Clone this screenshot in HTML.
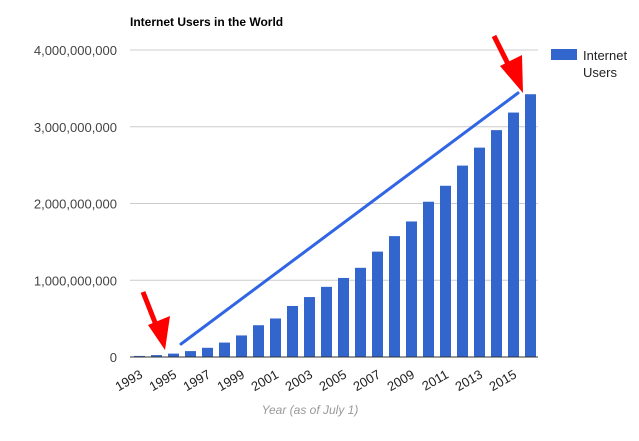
<!DOCTYPE html>
<html><head><meta charset="utf-8"><style>
body{margin:0;background:#fff;width:639px;height:441px;overflow:hidden}
svg{display:block;font-family:"Liberation Sans",Arial,sans-serif}
</style></head><body>
<svg id="chart" width="639" height="441">
<text x="130" y="26" font-size="12" font-weight="bold" fill="#000">Internet Users in the World</text>
<g id="grid"></g><g id="bars"></g><g id="xlabels"></g>
<line x1="130" y1="357" x2="538" y2="357" stroke="#333" stroke-width="1"/>
<text x="310" y="414" font-size="12" font-style="italic" fill="#999" text-anchor="middle">Year (as of July 1)</text>
<g>
<rect x="551" y="49" width="26" height="11" fill="#3366cc"/>
<text x="583" y="60" font-size="13" fill="#222">Internet</text>
<text x="583" y="77" font-size="13" fill="#222">Users</text>
</g>
<line x1="181" y1="344" x2="518" y2="93" stroke="#1a55e0" stroke-width="3" stroke-linecap="round" opacity="0.9"/>
<g fill="#f00" stroke="#f00">
<line x1="143" y1="292" x2="158" y2="330" stroke-width="5"/>
<polygon points="148,325 170,316 165,350" stroke="none"/>
<line x1="494" y1="36" x2="511" y2="70" stroke-width="5"/>
<polygon points="500,66 522,55 523,93" stroke="none"/>
</g>
</svg>
<script>
const years=[1993,1994,1995,1996,1997,1998,1999,2000,2001,2002,2003,2004,2005,2006,2007,2008,2009,2010,2011,2012,2013,2014,2015,2016];
const users=[14e6,25e6,44e6,77e6,120e6,188e6,281e6,414e6,502e6,665e6,781e6,914e6,1030e6,1162e6,1373e6,1575e6,1766e6,2023e6,2231e6,2494e6,2728e6,2956e6,3185e6,3424e6];
const yTicks=[0,1e9,2e9,3e9,4e9];
const yTickLabels=["0","1,000,000,000","2,000,000,000","3,000,000,000","4,000,000,000"];
const NS="http://www.w3.org/2000/svg";
const y0=357,yTop=50,yMax=4e9,x0=134,pitch=17,bw=11;
const yScale=v=>y0-(v/yMax)*(y0-yTop);
const xScale=i=>x0+i*pitch;
const grid=document.getElementById('grid');
yTicks.forEach((t,i)=>{
 const y=yScale(t);
 if(t>0){const l=document.createElementNS(NS,'line');
 l.setAttribute('x1',130);l.setAttribute('x2',538);l.setAttribute('y1',y);l.setAttribute('y2',y);
 l.setAttribute('stroke','#ccc');
 
 
 grid.appendChild(l);}
 const tx=document.createElementNS(NS,'text');
 tx.setAttribute('x',117);tx.setAttribute('y',y+5);tx.setAttribute('text-anchor','end');
 tx.setAttribute('font-size','13');tx.setAttribute('fill','#444');tx.textContent=yTickLabels[i];
 
 
 grid.appendChild(tx);
});
const bars=document.getElementById('bars'),xl=document.getElementById('xlabels');
years.forEach((yr,i)=>{
 const r=document.createElementNS(NS,'rect');
 const top=yScale(users[i]);
 r.setAttribute('x',xScale(i));r.setAttribute('y',top);r.setAttribute('width',bw);r.setAttribute('height',y0-top);
 r.setAttribute('fill','#3366cc');
 
 
 bars.appendChild(r);
 if(i%2===0){
  const t=document.createElementNS(NS,'text');
  const cx=xScale(i)+bw/2+4,cy=377;
  t.setAttribute('x',cx);t.setAttribute('y',cy);t.setAttribute('text-anchor','end');
  t.setAttribute('font-size','13');t.setAttribute('fill','#222');
  t.setAttribute('transform','rotate(-30 '+cx+' '+cy+')');
  t.textContent=yr;
  
  
  xl.appendChild(t);
 }
});
</script>
</body></html>
